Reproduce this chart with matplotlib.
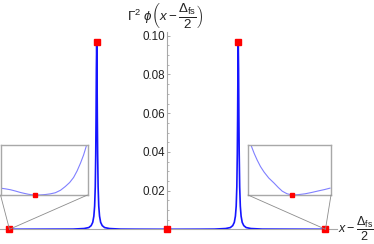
import matplotlib
matplotlib.use("Agg")
import matplotlib.pyplot as plt
from matplotlib.patches import ConnectionPatch

plt.rcParams["font.family"] = ["Liberation Sans", "DejaVu Sans"]
plt.rcParams["mathtext.fontset"] = "custom"
plt.rcParams["mathtext.rm"] = "Liberation Sans"
plt.rcParams["mathtext.it"] = "Liberation Sans:italic"
plt.rcParams["mathtext.bf"] = "Liberation Sans:bold"

# main curve, x - Delta_fs/2 (scaled so the end points sit at +-1)
x_main = [-1.0, -0.8, -0.6, -0.598, -0.528, -0.498, -0.483, -0.473, -0.466,
          -0.461, -0.457, -0.454, -0.452, -0.450, -0.448, -0.446, -0.444,
          -0.442, -0.439, -0.435, -0.430, -0.423, -0.413, -0.398, -0.368,
          -0.298, -0.2, 0.0,
          0.2, 0.298, 0.368, 0.398, 0.413, 0.423, 0.430, 0.435, 0.439, 0.442,
          0.444, 0.446, 0.448, 0.450, 0.452, 0.454, 0.457, 0.461, 0.466,
          0.473, 0.483, 0.498, 0.528, 0.6, 0.8, 1.0]
y_main = [0.0, 0.00005, 0.0001, 0.0001, 0.0004, 0.0009, 0.0019, 0.0036, 0.0068,
          0.012, 0.022, 0.039, 0.058, 0.083, 0.0966, 0.083, 0.058, 0.039,
          0.022, 0.012, 0.0068, 0.0036, 0.0019, 0.0009, 0.0004, 0.0001,
          0.00005, 0.0,
          0.00005, 0.0001, 0.0004, 0.0009, 0.0019, 0.0036, 0.0068, 0.012,
          0.022, 0.039, 0.058, 0.083, 0.0966, 0.083, 0.058, 0.039, 0.022,
          0.012, 0.0068, 0.0036, 0.0019, 0.0009, 0.0004, 0.0001, 0.00005, 0.0]

# marked points: ends, peaks, centre
x_pts = [-1.0, -0.448, 0.0, 0.448, 1.0]
y_pts = [0.0, 0.0966, 0.0, 0.0966, 0.0]

y_ticks = [0.02, 0.04, 0.06, 0.08, 0.10]
y_ticklabels = ["0.02", "0.04", "0.06", "0.08", "0.10"]

# zoomed views around the two end points (local units)
u_left = [-0.4, -0.34, -0.285, -0.23, -0.17, -0.12, -0.08, -0.04, 0.0, 0.06,
          0.118, 0.17, 0.23, 0.29, 0.345, 0.395, 0.44, 0.48, 0.52, 0.555, 0.59]
v_left = [0.137, 0.122, 0.105, 0.08, 0.05, 0.03, 0.015, 0.005, 0.0, 0.002,
          0.01, 0.022, 0.045, 0.095, 0.17, 0.25, 0.35, 0.48, 0.64, 0.8, 1.0]
u_right = [-0.49, -0.455, -0.42, -0.38, -0.337, -0.28, -0.217, -0.165, -0.117,
           -0.06, 0.0, 0.08, 0.157, 0.235, 0.313, 0.39, 0.458]
v_right = [0.98, 0.83, 0.7, 0.57, 0.46, 0.34, 0.24, 0.15, 0.076, 0.025, 0.0,
           0.008, 0.024, 0.05, 0.08, 0.108, 0.137]

W, H = 374, 244
fig = plt.figure(figsize=(W / 100, H / 100), dpi=100)
ax = fig.add_axes([0, 14.7 / H, 337 / W, 197.4 / H])

ax.plot(x_main, y_main, color="#1515ff", lw=1.2, zorder=3)
ax.plot(x_pts, y_pts, "s", color="#ff0000", ms=4.6, clip_on=False, zorder=4)

ax.set_xlim(-1.06, 1.073)
ax.set_ylim(0, 0.102)
ax.spines["left"].set_position(("data", 0))
ax.spines["top"].set_visible(False)
ax.spines["right"].set_visible(False)
for s in ("left", "bottom"):
    ax.spines[s].set_color("#a8a8a8")
    ax.spines[s].set_linewidth(0.8)
ax.set_xticks([])
ax.set_yticks(y_ticks)
ax.set_yticklabels(y_ticklabels)
ax.set_yticks([0.005 * i for i in range(1, 21) if i % 4], minor=True)
ax.tick_params(axis="y", which="both", direction="in", color="#a8a8a8",
               labelsize=8.4, pad=1.5, labelcolor="#222222")
ax.tick_params(axis="y", which="major", length=2.5, width=0.7)
ax.tick_params(axis="y", which="minor", length=1.5, width=0.6)
ax.patch.set_alpha(0)

fig.text(165 / W, 1 - 15 / H,
         r"$\Gamma^2\ \phi\left(x-\dfrac{\Delta_{\mathrm{fs}}}{2}\right)$",
         ha="center", va="center", fontsize=9.6, color="#222222")
fig.text(338 / W, 1 - 229 / H, r"$x-\dfrac{\Delta_{\mathrm{fs}}}{2}$",
         ha="left", va="center", fontsize=9.0, color="#222222")


def inset(rect, u, v, xlim, anchor):
    a = fig.add_axes(rect)
    a.plot(u, v, color="#8080ff", lw=0.8)
    a.plot([0], [0], "s", color="#ff0000", ms=2.8, clip_on=False, zorder=4)
    a.set_xlim(*xlim)
    a.set_ylim(0, 1)
    a.set_xticks([])
    a.set_yticks([])
    for s in a.spines.values():
        s.set_color("#a8a8a8")
        s.set_linewidth(1.0)
    for corner in ((0, 0), (1, 0)):
        fig.add_artist(ConnectionPatch(xyA=corner, coordsA=a.transAxes,
                                       xyB=anchor, coordsB=ax.transData,
                                       color="#8c8c8c", lw=0.6))
    return a


inset([0.5 / W, 49 / H, 87 / W, 50 / H], u_left, v_left, (-0.4, 0.6), (-1.0, 0.0))
inset([248 / W, 49 / H, 83 / W, 50 / H], u_right, v_right, (-0.53, 0.47), (1.0, 0.0))

fig.savefig("out.png", dpi=100)
